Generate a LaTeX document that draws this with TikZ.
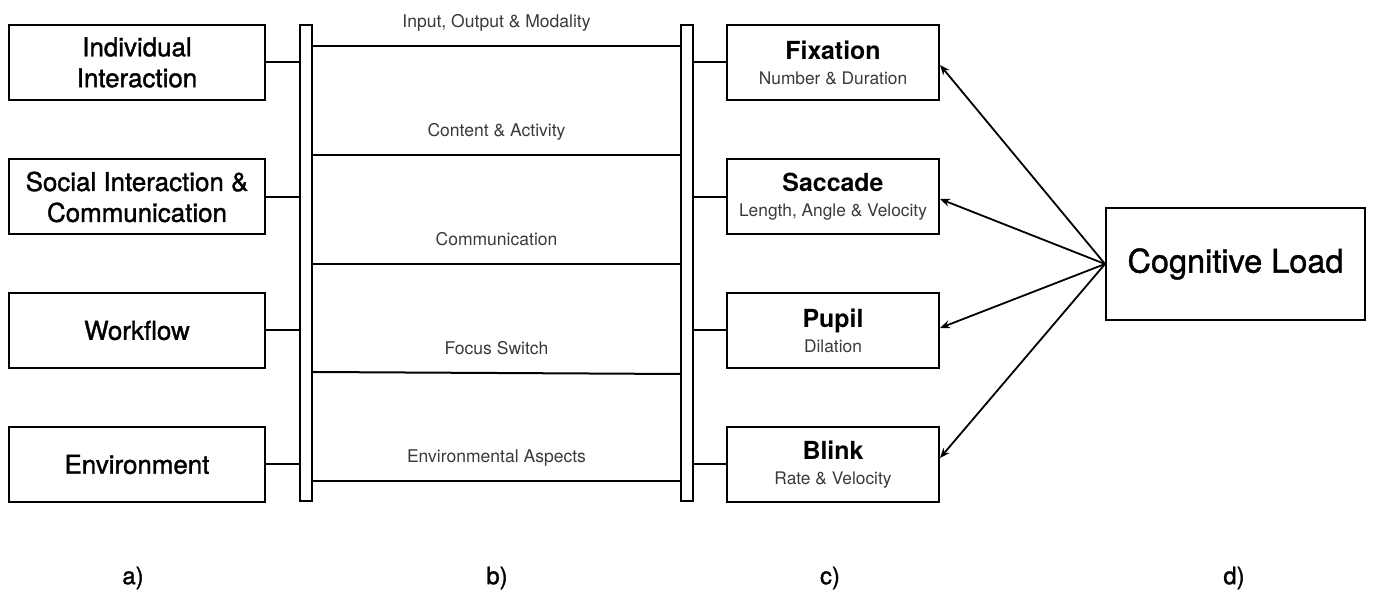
\documentclass[tikz,border=0pt]{standalone}
\usepackage{fontspec}
\setmainfont{TeX Gyre Heros}
\newfontfamily\medfont[FakeBold=1.3]{TeX Gyre Heros}
\usetikzlibrary{arrows.meta}
\definecolor{subgray}{HTML}{3A3A3A}
\tikzset{
  factor/.style={draw,line width=1bp,minimum width=128bp,minimum height=37.5bp,align=center,font=\medfont\fontsize{13}{15.5}\selectfont},
  measure/.style={draw,line width=1bp,minimum width=106bp,minimum height=37.5bp,align=center,font=\fontsize{12.5}{12.5}\selectfont},
  rail/.style={draw,line width=1bp,minimum width=6bp,minimum height=238bp,inner sep=0pt},
  link/.style={line width=1bp},
  lbl/.style={font=\fontsize{8.8}{10}\selectfont,text=subgray},
  tag/.style={font=\medfont\fontsize{12}{14}\selectfont},
}
\newcommand{\subline}[1]{{\fontsize{8.7}{12.5}\selectfont\color{subgray}#1}}
\begin{document}
\begin{tikzpicture}[>={Stealth[length=5bp,width=4bp]},line join=miter]
\useasboundingbox (0bp,0bp) rectangle (686.5bp,300.5bp);
%% a) factors
\node (indiv) at (68.5bp,269.25bp) [factor] {Individual\\Interaction};
\node (social) at (68.5bp,202bp) [factor] {Social Interaction \&\\Communication};
\node (workflow) at (68.5bp,135.25bp) [factor] {Workflow};
\node (environ) at (68.5bp,68.25bp) [factor] {Environment};
%% b) rails
\node (railL) at (153bp,169bp) [rail] {};
\node (railR) at (343.5bp,169bp) [rail] {};
%% c) measures
\node (fix) at (416.5bp,269.25bp) [measure] {\bfseries Fixation\\\subline{Number \& Duration}};
\node (sacc) at (416.5bp,202bp) [measure] {\bfseries Saccade\\\subline{Length, Angle \& Velocity}};
\node (pupil) at (416.5bp,135.25bp) [measure] {\bfseries Pupil\\\subline{Dilation}};
\node (blink) at (416.5bp,68.25bp) [measure] {\bfseries Blink\\\subline{Rate \& Velocity}};
%% d) load
\node (load) at (617.75bp,168.5bp) [draw,line width=1bp,minimum width=129.5bp,minimum height=56bp,font=\medfont\fontsize{16.3}{18}\selectfont] {Cognitive Load};
%
\foreach \f in {indiv,social,workflow,environ}
  \draw [link] (\f.east) -- (\f.east -| railL.west);
\foreach \m in {fix,sacc,pupil,blink}
  \draw [link] (\m.west) -- (\m.west -| railR.east);
%
\draw [link] (railL.east |- 0,277.5bp) -- (railR.west |- 0,277.5bp) node [lbl,midway,anchor=base,yshift=9bp] {Input, Output \& Modality};
\draw [link] (railL.east |- 0,223bp) -- (railR.west |- 0,223bp) node [lbl,midway,anchor=base,yshift=9bp] {Content \& Activity};
\draw [link] (railL.east |- 0,168.5bp) -- (railR.west |- 0,168.5bp) node [lbl,midway,anchor=base,yshift=9bp] {Communication};
\draw [link] (railL.east |- 0,114.5bp) -- (railR.west |- 0,113.5bp) node [lbl,midway,anchor=base,yshift=9bp] {Focus Switch};
\draw [link] (railL.east |- 0,60bp) -- (railR.west |- 0,60bp) node [lbl,midway,anchor=base,yshift=9bp] {Environmental Aspects};
%
\draw [black,->,line width=0.9bp] (load.west) -- ([yshift=-1.25bp]fix.east);
\draw [black,->,line width=0.9bp] (load.west) -- ([yshift=-1bp]sacc.east);
\draw [black,->,line width=0.9bp] (load.west) -- ([yshift=1.25bp]pupil.east);
\draw [black,->,line width=0.9bp] (load.west) -- ([yshift=3.25bp]blink.east);
%
\node (taga) at (66.5bp,11.5bp) [tag] {a)};
\node (tagb) at (248.5bp,11.5bp) [tag] {b)};
\node (tagc) at (415bp,11.5bp) [tag] {c)};
\node (tagd) at (617bp,11.5bp) [tag] {d)};
%
\end{tikzpicture}
\end{document}
